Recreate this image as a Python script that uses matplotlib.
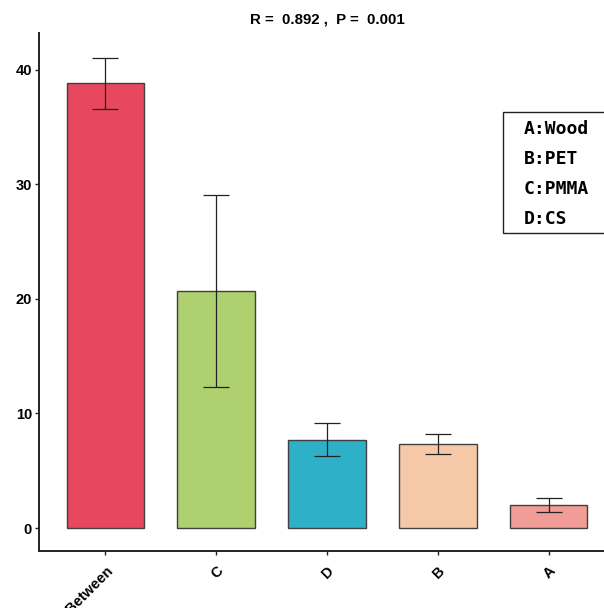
import numpy as np
import matplotlib
matplotlib.use("Agg")
import matplotlib.pyplot as plt

groups = ["Between", "C", "D", "B", "A"]
means = [38.8, 20.7, 7.7, 7.36, 2.0]
errs = [2.25, 8.35, 1.45, 0.87, 0.6]
colors = ["#E8485F", "#AED06F", "#2DB0C8", "#F5C9A8", "#F19C96"]
legend_lines = ["A:Wood", "B:PET", "C:PMMA", "D:CS"]
title = "R =  0.892 ,  P =  0.001"

plt.rcParams['font.family'] = ['Liberation Sans', 'DejaVu Sans']

fig = plt.figure(figsize=(6.04, 6.08), dpi=100)
# axes runs past the right edge, like the cropped original
ax = fig.add_axes([39 / 604, 1 - 551 / 608, 576 / 604, (551 - 33) / 608])

x = np.arange(len(groups))
ax.bar(x, means, width=0.7, color=colors, edgecolor="#404040", linewidth=1.0, zorder=2)
ax.errorbar(x, means, yerr=errs, fmt="none", ecolor="#222222", elinewidth=0.9,
            capsize=9.5, capthick=0.9, zorder=3)

ax.set_xlim(-0.6, 4.6)
ax.set_ylim(-2.0, 43.2)
ax.set_xticks(x)
ax.set_xticklabels(groups, rotation=45, ha="right", rotation_mode="anchor",
                   fontsize=10.5, fontweight="bold")
ax.set_yticks([0, 10, 20, 30, 40])
ax.set_yticklabels(["0", "10", "20", "30", "40"], fontsize=10.5, fontweight="bold")
ax.tick_params(axis="y", length=3, width=1, color="#222222", pad=2)
ax.tick_params(axis="x", length=3, width=1, color="#222222", pad=6)

for s in ["top", "right"]:
    ax.spines[s].set_visible(False)
for s in ["left", "bottom"]:
    ax.spines[s].set_linewidth(1.4)
    ax.spines[s].set_color("#222222")

fig.text(327 / 604, 1 - 20 / 608, title, ha="center", va="center",
         fontsize=10.8, fontweight="bold")

# legend-like text box
box = plt.Rectangle((503 / 604, 1 - 233 / 608), 0.3, (233 - 112) / 608,
                    transform=fig.transFigure, facecolor="white",
                    edgecolor="#222222", linewidth=1.0, zorder=5)
fig.add_artist(box)
for i, t in enumerate(legend_lines):
    fig.text(524 / 604, 1 - (129 + 30 * i) / 608, t, ha="left", va="center",
             fontsize=13, fontweight="bold", family="DejaVu Sans Mono", zorder=6)

fig.savefig("out.png", dpi=100)
